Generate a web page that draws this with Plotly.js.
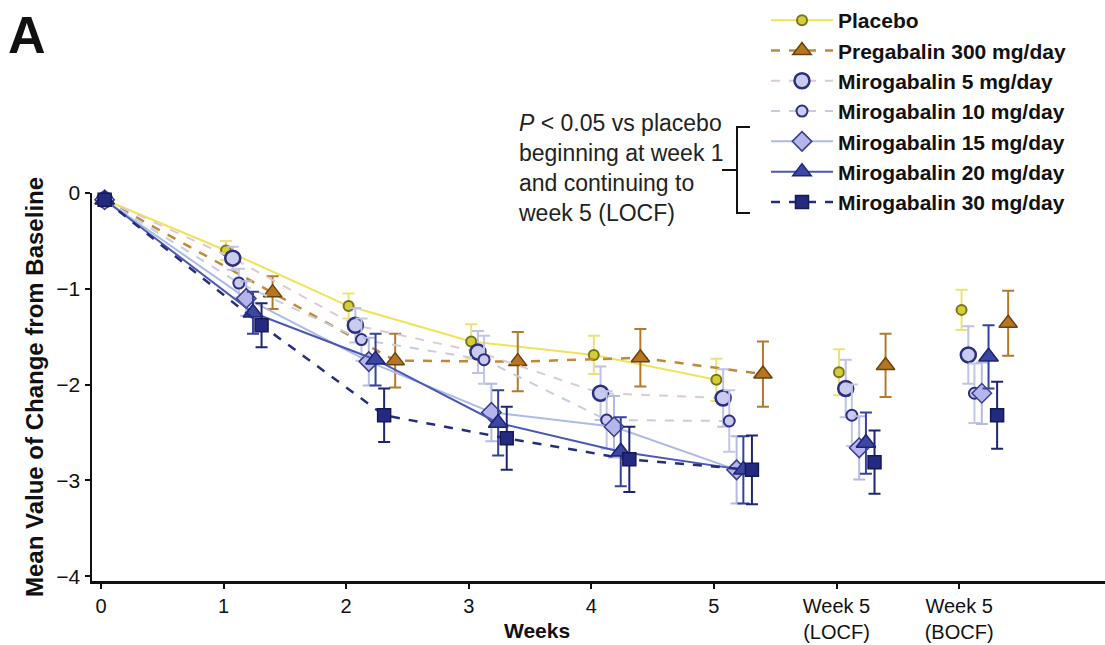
<!DOCTYPE html>
<html>
<head>
<meta charset="utf-8">
<script src="https://cdn.plot.ly/plotly-3.0.1.min.js"></script>
<style>
  html, body { margin: 0; padding: 0; background: #fff; }
  #chart { width: 1105px; height: 645px; }
</style>
</head>
<body>
<div id="chart"></div>
<script>
// Time points: weeks 0-5 plus the two week-5 imputation summaries
const weekLabels = ['0', '1', '2', '3', '4', '5', 'Week 5<br>(LOCF)', 'Week 5<br>(BOCF)'];

// Mean change from baseline (weeks 0..5, LOCF, BOCF) and error-bar half-widths
const placebo       = [-0.07, -0.60, -1.18, -1.55, -1.69, -1.95, -1.87, -1.22];
const placeboErr    = [0, 0.10, 0.13, 0.18, 0.20, 0.22, 0.24, 0.21];
const pregabalin    = [-0.07, -1.04, -1.75, -1.76, -1.72, -1.89, -1.80, -1.36];
const pregabalinErr = [0, 0.17, 0.28, 0.31, 0.30, 0.34, 0.33, 0.34];
const miro5         = [-0.07, -0.68, -1.38, -1.66, -2.09, -2.14, -2.04, -1.69];
const miro5Err      = [0, 0.12, 0.18, 0.22, 0.28, 0.30, 0.30, 0.30];
const miro10        = [-0.07, -0.94, -1.53, -1.74, -2.37, -2.38, -2.32, -2.09];
const miro10Err     = [0, 0.15, 0.22, 0.25, 0.30, 0.32, 0.32, 0.31];
const miro15        = [-0.07, -1.10, -1.76, -2.29, -2.44, -2.89, -2.66, -2.09];
const miro15Err     = [0, 0.18, 0.25, 0.30, 0.32, 0.35, 0.33, 0.32];
const miro20        = [-0.07, -1.25, -1.74, -2.40, -2.70, -2.89, -2.61, -1.71];
const miro20Err     = [0, 0.22, 0.27, 0.34, 0.36, 0.35, 0.32, 0.33];
const miro30        = [-0.07, -1.38, -2.32, -2.56, -2.78, -2.89, -2.81, -2.32];
const miro30Err     = [0, 0.23, 0.28, 0.33, 0.34, 0.36, 0.33, 0.35];

const FONT = 'Liberation Sans, Arial, Helvetica, sans-serif';

// Plot-area geometry (px) used to place the annotations and bracket
const W = 1105, H = 645;
const M = { l: 92, r: 0, t: 193, b: 64 };
const px2x = px => (px - M.l) / (W - M.l - M.r);
const py2y = py => (H - M.b - py) / (H - M.t - M.b);

const series = [
  { name: 'Placebo', y: placebo, err: placeboErr, dodge: 0.02,
    line: { color: '#f0e35a', width: 2, dash: 'solid' },
    marker: { symbol: 'circle', size: 10, color: '#d4cc38', line: { color: '#77751a', width: 2 } },
    errColor: '#ebe27a' },
  { name: 'Pregabalin 300 mg/day', y: pregabalin, err: pregabalinErr, dodge: 0.40,
    line: { color: '#c08838', width: 2.5, dash: 'dash' },
    marker: { symbol: 'triangle-up', size: 16, color: '#b67520', line: { color: '#6a4210', width: 1.5 } },
    errColor: '#b47a2c' },
  { name: 'Mirogabalin 5 mg/day', y: miro5, err: miro5Err, dodge: 0.075,
    line: { color: '#dccad6', width: 2, dash: 'dash' },
    marker: { symbol: 'circle', size: 15, color: '#c9cbf0', line: { color: '#2c2f7c', width: 2.5 } },
    errColor: '#bfc2e4' },
  { name: 'Mirogabalin 10 mg/day', y: miro10, err: miro10Err, dodge: 0.125,
    line: { color: '#c6cde2', width: 2, dash: 'dash' },
    marker: { symbol: 'circle', size: 11, color: '#c9cbf0', line: { color: '#2c2f7c', width: 2 } },
    errColor: '#c2c6e6' },
  { name: 'Mirogabalin 15 mg/day', y: miro15, err: miro15Err, dodge: 0.185,
    line: { color: '#acbbe6', width: 2, dash: 'solid' },
    marker: { symbol: 'diamond', size: 15, color: '#b3b5ec', line: { color: '#3a3d88', width: 1.5 } },
    errColor: '#b4bae6' },
  { name: 'Mirogabalin 20 mg/day', y: miro20, err: miro20Err, dodge: 0.24,
    line: { color: '#4a58b2', width: 2, dash: 'solid' },
    marker: { symbol: 'triangle-up', size: 17, color: '#3b47a2', line: { color: '#1c2470', width: 1.5 } },
    errColor: '#37429c' },
  { name: 'Mirogabalin 30 mg/day', y: miro30, err: miro30Err, dodge: 0.31,
    line: { color: '#262e7c', width: 2.5, dash: 'dash' },
    marker: { symbol: 'square', size: 13, color: '#232a80', line: { color: '#141a56', width: 1.5 } },
    errColor: '#1e2670' }
];

const weekIdx = [0, 1, 2, 3, 4, 5];
const endIdx = [6, 7];
const traces = [];
series.forEach((s, k) => {
  const pos = i => (i === 0 ? 0.03 : i + s.dodge);
  const err = idx => ({
    type: 'data', visible: true, array: idx.map(i => s.err[i]),
    color: s.errColor, thickness: 2, width: 6
  });
  traces.push({
    type: 'scatter', mode: 'lines+markers', name: s.name,
    legendgroup: 'g' + k,
    x: weekIdx.map(pos), y: weekIdx.map(i => s.y[i]),
    line: s.line, marker: s.marker, error_y: err(weekIdx),
    cliponaxis: false, hoverinfo: 'skip'
  });
  traces.push({
    type: 'scatter', mode: 'markers', name: s.name, showlegend: false,
    legendgroup: 'g' + k,
    x: endIdx.map(pos), y: endIdx.map(i => s.y[i]),
    marker: s.marker, error_y: err(endIdx),
    cliponaxis: false, hoverinfo: 'skip'
  });
});

// Bracket grouping the significant doses
const bx0 = px2x(750), bx1 = px2x(737), bx2 = px2x(722);
const byT = py2y(127), byB = py2y(213), byM = py2y(170);

const layout = {
  width: W, height: H,
  margin: M,
  paper_bgcolor: '#fff', plot_bgcolor: '#fff',
  font: { family: FONT, color: '#111' },
  showlegend: true,
  legend: {
    x: px2x(766), y: py2y(0), xanchor: 'left', yanchor: 'top',
    traceorder: 'grouped', tracegroupgap: 0, itemwidth: 62,
    bgcolor: 'rgba(0,0,0,0)', borderwidth: 0,
    font: { family: FONT, size: 21, weight: 'bold', color: '#111' }
  },
  xaxis: {
    range: [-0.073, 8.19],
    tickvals: weekLabels.map((_, i) => i),
    ticktext: weekLabels,
    ticks: 'outside', ticklen: 5, tickwidth: 2, tickcolor: '#111',
    showline: true, linewidth: 2.5, linecolor: '#111',
    showgrid: false, zeroline: false,
    tickfont: { family: FONT, size: 20, color: '#111' }
  },
  yaxis: {
    range: [-4.05, 0],
    tickvals: [0, -1, -2, -3, -4],
    ticks: 'outside', ticklen: 5, tickwidth: 2, tickcolor: '#111',
    showline: true, linewidth: 2.5, linecolor: '#111',
    showgrid: false, zeroline: false,
    tickfont: { family: FONT, size: 21, color: '#111' },
    title: { text: 'Mean Value of Change from Baseline', standoff: 6,
             font: { family: FONT, size: 24, weight: 'bold', color: '#111' } }
  },
  annotations: [
    { xref: 'paper', yref: 'paper', x: px2x(537), y: py2y(630), xanchor: 'center', yanchor: 'middle',
      text: 'Weeks', showarrow: false, font: { family: FONT, size: 21, weight: 'bold', color: '#111' } },
    { xref: 'paper', yref: 'paper', x: px2x(6), y: py2y(35), xanchor: 'left', yanchor: 'middle',
      text: 'A', showarrow: false, font: { family: FONT, size: 52, weight: 'bold', color: '#111' } },
    { xref: 'paper', yref: 'paper', x: px2x(516), y: py2y(168), xanchor: 'left', yanchor: 'middle',
      align: 'left', showarrow: false,
      text: '<i>P</i> &lt; 0.05 vs placebo<br>beginning at week 1<br>and continuing to<br>week 5 (LOCF)',
      font: { family: FONT, size: 23, color: '#222' } }
  ],
  shapes: [
    { type: 'path', xref: 'paper', yref: 'paper',
      path: `M ${bx0} ${byT} L ${bx1} ${byT} L ${bx1} ${byB} L ${bx0} ${byB} M ${bx1} ${byM} L ${bx2} ${byM}`,
      line: { color: '#111', width: 2 } }
  ]
};

Plotly.newPlot('chart', traces, layout, { displayModeBar: false, staticPlot: true });
</script>
</body>
</html>
